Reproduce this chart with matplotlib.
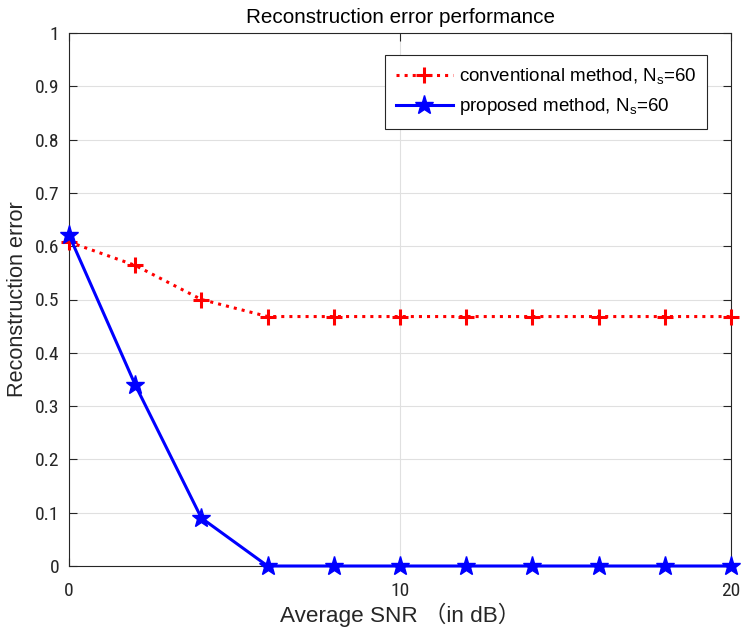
import matplotlib
matplotlib.use("Agg")
import matplotlib.pyplot as plt
from matplotlib import font_manager

plt.rcParams['font.family'] = ['Liberation Sans', 'Noto Sans CJK SC', 'DejaVu Sans']
plt.rcParams['mathtext.fontset'] = 'custom'
plt.rcParams['mathtext.rm'] = 'Liberation Sans'
plt.rcParams['mathtext.it'] = 'Liberation Sans'

names = {f.name for f in font_manager.fontManager.ttflist}
narrow = None
for cand in ['Liberation Sans Narrow', 'Roboto Condensed', 'Open Sans Condensed', 'DejaVu Sans Condensed']:
    if cand in names:
        narrow = cand
        break

snr = [0, 2, 4, 6, 8, 10, 12, 14, 16, 18, 20]
conventional = [0.608, 0.564, 0.500, 0.468, 0.468, 0.468, 0.468, 0.468, 0.468, 0.468, 0.468]
proposed = [0.621, 0.340, 0.090, 0.0, 0.0, 0.0, 0.0, 0.0, 0.0, 0.0, 0.0]
labels = [r'conventional method, N$_\mathregular{s}$=60', r'proposed method, N$_\mathregular{s}$=60']
ytick_labels = ['0', '0.1', '0.2', '0.3', '0.4', '0.5', '0.6', '0.7', '0.8', '0.9', '1']
xticks = [0, 10, 20]

fig = plt.figure(figsize=(7.43, 6.32), dpi=100)
ax = fig.add_axes([69/743, 66/632, 662/743, 533/632])

ax.plot(snr, conventional, color='#ff0000', linestyle=':', linewidth=2.2, marker='+',
        markersize=11, markeredgewidth=2.2, label=labels[0], clip_on=False, zorder=3)
ax.plot(snr, proposed, color='#0000ff', linestyle='-', linewidth=2.2, marker='*',
        markersize=14, label=labels[1], clip_on=False, zorder=4)

ax.set_xlim(0, 20)
ax.set_ylim(0, 1)
ax.set_xticks(xticks)
ax.set_xticklabels([str(v) for v in xticks])
ax.set_yticks([i/10 for i in range(11)])
ax.set_yticklabels(ytick_labels)
for lab in ax.get_xticklabels() + ax.get_yticklabels():
    if narrow:
        lab.set_family(narrow)
        lab.set_fontsize(14)
    else:
        lab.set_fontsize(12.8)
ax.grid(True, color='#e0e0e0', linewidth=0.8)
ax.set_axisbelow(True)
ax.tick_params(direction='in', top=True, right=True, length=6, width=0.8,
               colors='#262626')
ax.tick_params(axis='x', pad=11.5)
ax.tick_params(axis='y', pad=7)
for s in ax.spines.values():
    s.set_color('#262626')
    s.set_linewidth(0.8)

ax.set_title('Reconstruction error performance', fontsize=14.9, color='#000000', pad=7)
ax.set_xlabel('Average SNR （in dB）', fontsize=16.2, color='#262626', labelpad=2)
ax.set_ylabel('Reconstruction error', fontsize=15.6, color='#262626', labelpad=5)

leg = ax.legend(loc='upper right', bbox_to_anchor=(0.964, 0.959), borderaxespad=0,
                fontsize=13.5, fancybox=False, edgecolor='#262626', framealpha=1,
                handlelength=3.0, handletextpad=0.32, borderpad=0.6, labelspacing=0.55)
leg.get_frame().set_linewidth(0.8)

fig.savefig('out.png', dpi=100)
